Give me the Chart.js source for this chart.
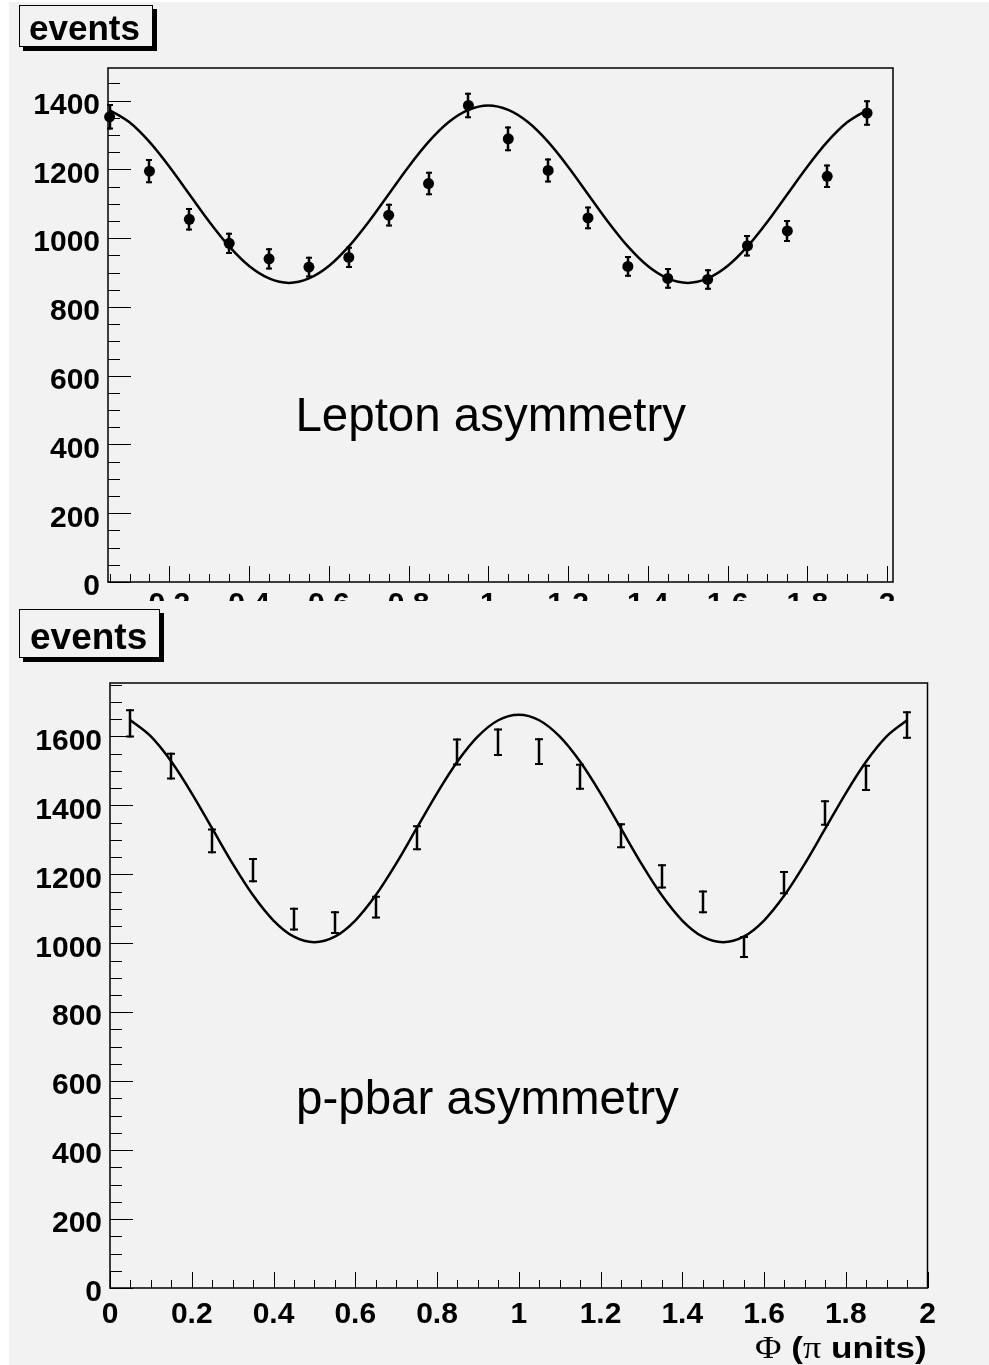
<!DOCTYPE html>
<html>
<head>
<meta charset="utf-8">
<script src="https://cdn.jsdelivr.net/npm/chart.js@4"></script>
<style>
  html, body { margin: 0; padding: 0; }
  body { width: 989px; height: 1365px; background: #f2f2f2; position: relative; overflow: hidden; font-family: "Liberation Sans", Arial, sans-serif; }
  .strip-l { position: absolute; left: 0; top: 0; width: 9px; height: 1365px; background: #fff; }
  .strip-t { position: absolute; left: 0; top: 0; width: 989px; height: 2px; background: #fff; }
  canvas { position: absolute; left: 0; }
  #top { top: 0; }
  #bot { top: 608px; }
  .evbox { position: absolute; box-sizing: border-box; border: 1px solid #000; box-shadow: 4px 4px 0 #000; background: #f2f2f2; font-weight: bold; color: #000; white-space: nowrap; }
  #ev1 { left: 19px; top: 5px; width: 134px; height: 42px; font-size: 35px; line-height: 44px; padding-left: 9px; }
  #ev2 { left: 19px; top: 609px; width: 141px; height: 49px; font-size: 37px; line-height: 54px; padding-left: 10px; }
  #xtitle { position: absolute; right: 62px; top: 1333px; font: bold 30px "Liberation Sans", Arial, sans-serif; line-height: 30px; white-space: nowrap; transform: scaleX(1.17); transform-origin: right center; }
  #xtitle .g { font-family: "Liberation Serif", "DejaVu Serif", serif; font-weight: normal; font-size: 31px; }
</style>
</head>
<body>
<div class="strip-l"></div>
<div class="strip-t"></div>
<canvas id="top" width="989" height="608"></canvas>
<canvas id="bot" width="989" height="757"></canvas>
<div class="evbox" id="ev1">events</div>
<div class="evbox" id="ev2">events</div>
<div id="xtitle"><span class="g">Φ</span> (<span class="g">π</span> units)</div>
<script>
// bin centres (phi in pi units)
const phiBins = [0.05, 0.15, 0.25, 0.35, 0.45, 0.55, 0.65, 0.75, 0.85, 0.95,
                 1.05, 1.15, 1.25, 1.35, 1.45, 1.55, 1.65, 1.75, 1.85, 1.95];

// lepton asymmetry histogram
const leptonCounts = [1353, 1195, 1055, 985, 940, 916, 944, 1067, 1159, 1386,
                      1289, 1197, 1059, 918, 883, 880, 978, 1021, 1180, 1364];
const leptonErrs   = [37, 35, 33, 31, 31, 30, 31, 33, 34, 37,
                      36, 35, 33, 30, 30, 30, 31, 32, 34, 37];

// p-pbar asymmetry histogram
const ppbarCounts = [1638, 1514, 1297, 1212, 1070, 1060, 1105, 1306, 1555, 1583,
                     1556, 1483, 1312, 1194, 1120, 989, 1176, 1378, 1480, 1633];
const ppbarErrs   = [41, 39, 36, 35, 33, 33, 33, 36, 39, 40,
                     39, 38, 36, 35, 33, 32, 34, 37, 38, 40];

// fitted curves
const fitPhi = [0.05, 0.10, 0.15, 0.20, 0.25, 0.30, 0.35, 0.40, 0.45, 0.50,
                0.55, 0.60, 0.65, 0.70, 0.75, 0.80, 0.85, 0.90, 0.95, 1.00,
                1.05, 1.10, 1.15, 1.20, 1.25, 1.30, 1.35, 1.40, 1.45, 1.50,
                1.55, 1.60, 1.65, 1.70, 1.75, 1.80, 1.85, 1.90, 1.95];
const leptonFit = [1373, 1337, 1280, 1208, 1128, 1048, 976, 919, 883, 870,
                   883, 919, 976, 1048, 1128, 1208, 1280, 1337, 1373, 1386,
                   1373, 1337, 1280, 1208, 1128, 1048, 976, 919, 883, 870,
                   883, 919, 976, 1048, 1128, 1208, 1280, 1337, 1373];
const ppbarFit = [1647, 1600, 1527, 1435, 1333, 1231, 1139, 1066, 1019, 1003,
                  1019, 1066, 1139, 1231, 1333, 1435, 1527, 1600, 1647, 1663,
                  1647, 1600, 1527, 1435, 1333, 1231, 1139, 1066, 1019, 1003,
                  1019, 1066, 1139, 1231, 1333, 1435, 1527, 1600, 1647];

// tick labels
const xTicksTop = [0.2, 0.4, 0.6, 0.8, 1.0, 1.2, 1.4, 1.6, 1.8, 2.0];
const xLabelsTop = ["0.2", "0.4", "0.6", "0.8", "1", "1.2", "1.4", "1.6", "1.8", "2"];
const xTicksBot = [0, 0.2, 0.4, 0.6, 0.8, 1.0, 1.2, 1.4, 1.6, 1.8, 2.0];
const xLabelsBot = ["0", "0.2", "0.4", "0.6", "0.8", "1", "1.2", "1.4", "1.6", "1.8", "2"];
const yTicksTop = [0, 200, 400, 600, 800, 1000, 1200, 1400];
const yTicksBot = [0, 200, 400, 600, 800, 1000, 1200, 1400, 1600];

Chart.defaults.font.family = '"Liberation Sans", Arial, sans-serif';
Chart.defaults.color = '#000';

// frame + inward ticks like ROOT
const rootFrame = {
  id: 'rootFrame',
  afterDraw(chart, args, o) {
    const { ctx, chartArea: a, scales: { x, y } } = chart;
    ctx.save();
    ctx.strokeStyle = '#000';
    ctx.lineWidth = 1;
    for (let k = 0; k * 50 <= y.max; k++) {
      const p = Math.round(y.getPixelForValue(k * 50)) + 0.5;
      const len = k % 4 === 0 ? 23 : 12;
      ctx.beginPath(); ctx.moveTo(a.left, p); ctx.lineTo(a.left + len, p); ctx.stroke();
    }
    for (let k = 0; k * 0.05 <= x.max + 1e-9; k++) {
      const v = k * 0.05;
      if (v < x.min - 1e-9) continue;
      const p = Math.round(x.getPixelForValue(v)) + 0.5;
      const len = k % 4 === 0 ? 16 : 8;
      ctx.beginPath(); ctx.moveTo(p, a.bottom); ctx.lineTo(p, a.bottom - len); ctx.stroke();
    }
    ctx.lineWidth = 1.5;
    ctx.strokeRect(a.left, a.top, a.right - a.left, a.bottom - a.top);
    // panel caption
    ctx.font = '47.5px "Liberation Sans", Arial, sans-serif';
    ctx.fillStyle = '#000';
    ctx.textAlign = 'left';
    ctx.textBaseline = 'alphabetic';
    ctx.fillText(o.text, x.getPixelForValue(o.tx), y.getPixelForValue(o.ty));
    ctx.restore();
  }
};

// error bars
const errBars = {
  id: 'errBars',
  beforeDatasetsDraw(chart, args, o) {
    const { ctx, scales: { x, y } } = chart;
    ctx.save();
    ctx.strokeStyle = '#000';
    chart.data.datasets.forEach(ds => {
      if (!ds.errors) return;
      ds.data.forEach((pt, i) => {
        const px = Math.round(x.getPixelForValue(pt.x));
        const y1 = y.getPixelForValue(pt.y + ds.errors[i]);
        const y2 = y.getPixelForValue(pt.y - ds.errors[i]);
        ctx.lineWidth = 2.5;
        ctx.beginPath(); ctx.moveTo(px, y1); ctx.lineTo(px, y2); ctx.stroke();
        ctx.lineWidth = 2;
        ctx.beginPath();
        ctx.moveTo(px - o.cap, y1 + 1); ctx.lineTo(px + o.cap, y1 + 1);
        ctx.moveTo(px - o.cap, y2 - 1); ctx.lineTo(px + o.cap, y2 - 1);
        ctx.stroke();
      });
    });
    ctx.restore();
  }
};

function makePanel(canvasId, cfg) {
  const pts = phiBins.map((v, i) => ({ x: v, y: cfg.counts[i] }));
  const fit = fitPhi.map((v, i) => ({ x: v, y: cfg.fit[i] }));
  return new Chart(document.getElementById(canvasId), {
    type: 'scatter',
    data: {
      datasets: [
        {
          data: pts,
          errors: cfg.errs,
          pointRadius: cfg.dot,
          pointBackgroundColor: '#000',
          pointBorderColor: '#000',
          pointBorderWidth: 0,
          showLine: false,
          clip: false
        },
        {
          data: fit,
          showLine: true,
          borderColor: '#000',
          borderWidth: 2.5,
          pointRadius: 0,
          cubicInterpolationMode: 'monotone',
          fill: false
        }
      ]
    },
    options: {
      responsive: false,
      devicePixelRatio: 1,
      animation: false,
      events: [],
      layout: { padding: { left: 0, right: cfg.padRight, top: cfg.padTop, bottom: 0 } },
      plugins: {
        legend: { display: false },
        tooltip: { enabled: false },
        rootFrame: { text: cfg.text, tx: cfg.tx, ty: cfg.ty },
        errBars: { cap: cfg.cap }
      },
      scales: {
        x: {
          type: 'linear',
          min: cfg.xMin,
          max: cfg.xMax,
          grid: { display: false, drawTicks: false },
          border: { display: false },
          afterBuildTicks: s => { s.ticks = cfg.xTicks.map(v => ({ value: v })); },
          afterFit: s => { s.height = cfg.xHeight; },
          ticks: {
            padding: cfg.xPad,
            maxRotation: 0,
            autoSkip: false,
            font: { size: 30, weight: 'bold' },
            callback: (v, i) => cfg.xLabels[i]
          }
        },
        y: {
          type: 'linear',
          min: 0,
          max: cfg.yMax,
          grid: { display: false, drawTicks: false },
          border: { display: false },
          afterBuildTicks: s => { s.ticks = cfg.yTicks.map(v => ({ value: v })); },
          afterFit: s => { s.width = cfg.yWidth; },
          ticks: {
            padding: 8,
            labelOffset: 5,
            autoSkip: false,
            font: { size: 30, weight: 'bold' },
            callback: v => String(v)
          }
        }
      }
    },
    plugins: [rootFrame, errBars]
  });
}

makePanel('top', {
  counts: leptonCounts, errs: leptonErrs, fit: leptonFit,
  xTicks: xTicksTop, xLabels: xLabelsTop, yTicks: yTicksTop,
  xMin: 0.046, xMax: 2.015, yMax: 1495,
  padTop: 68, padRight: 96, xHeight: 19, yWidth: 108, xPad: 5,
  dot: 5.5, cap: 3,
  text: 'Lepton asymmetry', tx: 0.516, ty: 440
});

makePanel('bot', {
  counts: ppbarCounts, errs: ppbarErrs, fit: ppbarFit,
  xTicks: xTicksBot, xLabels: xLabelsBot, yTicks: yTicksBot,
  xMin: 0, xMax: 2, yMax: 1755,
  padTop: 75, padRight: 61.5, xHeight: 77, yWidth: 110, xPad: 9,
  dot: 0, cap: 4,
  text: 'p-pbar asymmetry', tx: 0.455, ty: 504
});
</script>
</body>
</html>
